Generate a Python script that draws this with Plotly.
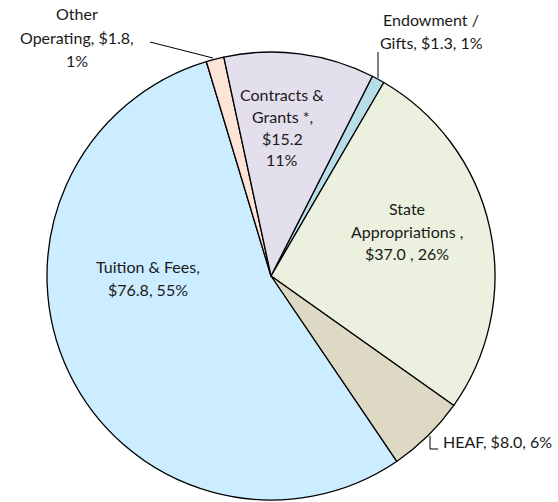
import plotly.graph_objects as go

labels = ["Endowment / Gifts", "State Appropriations", "HEAF", "Tuition & Fees",
          "Other Operating", "Contracts & Grants *"]
values = [1.3, 37.0, 8.0, 76.8, 1.8, 15.2]
colors = ["#B7DEE8", "#EBF1DE", "#DDD9C4", "#CCECFF", "#FCE4D6", "#E4DFEC"]

W, H = 558, 502
total = sum(values)
pct = [round(v / total * 100) for v in values]

def px(x):
    return x / W

def py(y):
    return 1 - y / H

fig = go.Figure(go.Pie(
    labels=labels, values=values, sort=False, direction="clockwise",
    rotation=26.9,
    marker=dict(colors=colors, line=dict(color="#000000", width=1.3)),
    textinfo="none", hoverinfo="label+value+percent", showlegend=False,
    domain=dict(x=[px(47), px(495)], y=[py(500), py(52)]),
))

font = dict(family="Lato, 'Open Sans', sans-serif", size=16, color="#1a1a1a")
# each label: list of lines, x centre, y of each line (pixels), anchor
blocks = [
    (["Endowment /", f"Gifts, ${values[0]:.1f}, {pct[0]}%"], 431, [20, 42], "center"),
    (["State", "Appropriations ,", f"${values[1]:.1f} , {pct[1]}%"], 407, [208, 231, 253], "center"),
    ([f"HEAF, ${values[2]:.1f}, {pct[2]}%"], 441, [441], "left"),
    (["Tuition & Fees,", f"${values[3]:.1f}, {pct[3]}%"], 148, [266, 289], "center"),
    (["Other", f"Operating, ${values[4]:.1f},", f"{pct[4]}%"], 77, [14, 37, 60], "center"),
    (["Contracts &", "Grants *,", f"${values[5]:.1f}", f"{pct[5]}%"], 282, [94, 116, 138, 160], "center"),
]
annotations = []
for lines, x, ys, anchor in blocks:
    for t, y in zip(lines, ys):
        annotations.append(dict(text=t, x=px(x), y=py(y), xref="paper", yref="paper",
                                showarrow=False, font=font,
                                xanchor=anchor, yanchor="middle"))

line = dict(color="#000000", width=1)
shapes = [
    dict(type="line", xref="paper", yref="paper", x0=px(150), y0=py(42), x1=px(213), y1=py(58), line=line),
    dict(type="line", xref="paper", yref="paper", x0=px(378), y0=py(52), x1=px(378), y1=py(78), line=line),
    dict(type="path", xref="paper", yref="paper",
         path=f"M {px(430)} {py(436)} L {px(430)} {py(449)} L {px(438)} {py(449)}", line=line),
]

fig.update_layout(width=W, height=H, margin=dict(l=0, r=0, t=0, b=0),
                  paper_bgcolor="white", plot_bgcolor="white",
                  annotations=annotations, shapes=shapes)
fig.write_html("out.html", config={"displayModeBar": False},
               post_script="document.body.style.margin='0';document.body.style.overflow='hidden';")
